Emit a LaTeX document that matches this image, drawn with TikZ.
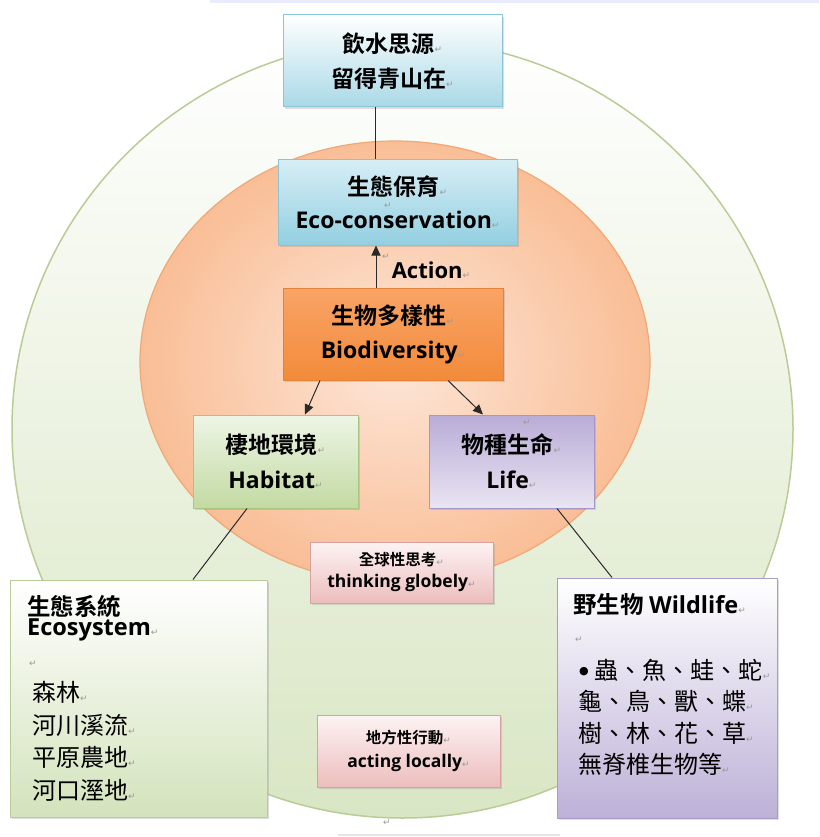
\documentclass[tikz,border=0pt]{standalone}
\usepackage{fontspec}
\setmainfont{Noto Sans CJK TC}[BoldFont={Noto Sans CJK TC Bold}]
\newfontfamily\latfont{Open Sans}
\newfontfamily\dvfont{DejaVu Sans}
\usetikzlibrary{arrows.meta,shadows,calc}
\definecolor{retgray}{HTML}{9A9A9A}
\definecolor{outerBd}{HTML}{B9CC96}
\definecolor{outerBot}{HTML}{D9E6C4}
\definecolor{orangeBd}{HTML}{F0A877}
\definecolor{orangeIn}{HTML}{FDE6D8}
\definecolor{orangeOut}{HTML}{F9BE96}
\definecolor{blueBd}{HTML}{8CC4D6}
\definecolor{blueBot}{HTML}{A9D9E7}
\definecolor{consTop}{HTML}{D6EEF5}
\definecolor{consBot}{HTML}{93CFE1}
\definecolor{bioBd}{HTML}{E5823A}
\definecolor{bioTop}{HTML}{F9A467}
\definecolor{bioMid}{HTML}{FBC6A0}
\definecolor{bioBot}{HTML}{F28B3A}
\definecolor{habBd}{HTML}{A9C580}
\definecolor{habTop}{HTML}{EEF5E6}
\definecolor{habBot}{HTML}{C3DAA2}
\definecolor{lifeBd}{HTML}{A497CB}
\definecolor{lifeTop}{HTML}{B9ACD7}
\definecolor{lifeBot}{HTML}{E9E5F2}
\definecolor{pinkBd}{HTML}{D8A0A0}
\definecolor{pinkTop}{HTML}{FDF3F3}
\definecolor{pinkBot}{HTML}{EDBDBD}
\definecolor{ecoBd}{HTML}{B7CC98}
\definecolor{ecoBot}{HTML}{D3E3BC}
\definecolor{wildBd}{HTML}{A99CCB}
\definecolor{wildBot}{HTML}{BDB1D7}
\definecolor{lineC}{HTML}{2A2A2A}
\newcommand\retm{{\mdseries\dvfont\fontsize{9}{9}\selectfont\textcolor{retgray}{↵}}}
\newcommand\lat[1]{{\latfont #1}}
\begin{document}
\begin{tikzpicture}[x=1pt,y=-1pt,
  box/.style={draw, rectangle, inner sep=0pt, line width=1pt, align=center,
    drop shadow={shadow xshift=2pt, shadow yshift=-2pt, opacity=0.25},
    font=\bfseries\fontsize{23}{35}\selectfont},
  pinkbox/.style={box, draw=pinkBd, top color=pinkTop, bottom color=pinkBot,
    minimum width=183pt, font=\bfseries\fontsize{17.5}{22}\selectfont},
  conn/.style={draw=lineC, line width=1pt},
  arr/.style={conn, -{Triangle[length=10pt,width=9pt]}},
  hdr/.style={anchor=west, inner sep=0pt, font=\bfseries\fontsize{23.5}{28}\selectfont},
  item/.style={anchor=west, inner sep=0pt, font=\fontsize{24}{28}\selectfont},
  ret/.style={inner sep=0pt, font=\dvfont\fontsize{9}{9}\selectfont, text=retgray}]
\useasboundingbox (0,0) rectangle (819,837);
% page artifacts
\draw[line width=3pt, draw=blue!8] (210,1.5) -- (819,1.5);
\draw[line width=2pt, draw=black!10] (338,835) -- (560,835);
% outer circle
\path[draw=outerBd, line width=1.5pt, top color=white, bottom color=outerBot]
  (402.5,429) ellipse [x radius=390.5pt, y radius=389pt];
% inner ellipse
\path[draw=orangeBd, line width=1.2pt, inner color=orangeIn, outer color=orangeOut]
  (395,362) ellipse [x radius=255pt, y radius=221pt];
% boxes
\node[box, draw=blueBd, top color=white, bottom color=blueBot,
  minimum width=219pt, minimum height=92pt] (src) at (392.5,61)
  {飲水思源\retm\\留得青山在\retm};
\node[box, draw=blueBd, top color=consTop, bottom color=consBot,
  minimum width=239pt, minimum height=85pt, font=\bfseries\fontsize{23}{33}\selectfont] (cons) at (397.5,202.5)
  {生態保育\retm\\\lat{Eco-conservation}\retm};
\node[ret] (consret) at (388,206) {↵};
\node[box, draw=bioBd, top color=bioTop, middle color=bioMid, bottom color=bioBot,
  minimum width=220pt, minimum height=92pt, font=\bfseries\fontsize{23}{34}\selectfont] (bio) at (393,334)
  {生物多樣性\retm\\\lat{Biodiversity}\retm};
\node[inner sep=0pt, font=\bfseries\fontsize{22}{26}\selectfont] (act) at (431,270) {\lat{Action}\retm};
\node[ret] (actret) at (386,257) {↵};
\node[box, draw=habBd, top color=habTop, bottom color=habBot,
  minimum width=165pt, minimum height=93pt] (hab) at (275.5,461.5)
  {棲地環境\retm\\\lat{Habitat}\retm};
\node[box, draw=lifeBd, top color=lifeTop, bottom color=lifeBot,
  minimum width=165pt, minimum height=93pt] (life) at (511.5,461.5)
  {物種生命\retm\\\lat{Life}\retm};
\node[ret] (liferet) at (527,423) {↵};
\node[pinkbox, minimum height=61pt] (glob) at (401.5,572.5)
  {{\fontsize{15.5}{22}\selectfont 全球性思考\retm}\\\lat{thinking globely}\retm};
\node[pinkbox, minimum height=72pt] (local) at (408.5,751)
  {{\fontsize{15.5}{24}\selectfont 地方性行動\retm}\\[2pt]\lat{acting locally}\retm};
\node[box, draw=ecoBd, top color=white, bottom color=ecoBot,
  minimum width=257pt, minimum height=237pt] (ecosys) at (138.5,698.5) {};
\node[box, draw=wildBd, top color=white, bottom color=wildBot,
  minimum width=220pt, minimum height=240pt] (wild) at (667,698) {};
% ecosystem text
\node[hdr] (e1) at (27,607) {生態系統};
\node[hdr] (e2) at (27,630) {\lat{Ecosystem}\retm};
\node[ret] (e3) at (33,664) {↵};
\node[item] (e4) at (32,692) {森林\retm};
\node[item] (e5) at (32,725) {河川溪流\retm};
\node[item] (e6) at (32,757) {平原農地\retm};
\node[item] (e7) at (32,790) {河口溼地\retm};
% wildlife text
\node[hdr] (w1) at (573,605) {野生物 \lat{Wildlife}\retm};
\node[ret] (w2) at (579,640) {↵};
\node[item] (w3) at (579,670) {\raisebox{5pt}{\dvfont\fontsize{11}{11}\selectfont●}\hspace{6pt}蟲、魚、蛙、蛇\retm};
\node[item] (w4) at (578,701) {龜、鳥、獸、蝶\retm};
\node[item] (w5) at (578,733) {樹、林、花、草\retm};
\node[item] (w6) at (578,764) {無脊椎生物等\retm};
\node[ret] (botret) at (387,823) {↵};
% connectors
\draw[conn] ([xshift=-17.5pt]src.south) -- ([xshift=-17.5pt]src.south |- cons.north);
\draw[arr] ([xshift=-17pt]bio.north) -- ([xshift=-17pt]bio.north |- cons.south);
\draw[arr] ([xshift=-73pt]bio.south) -- ([xshift=29.5pt]hab.north);
\draw[arr] ([xshift=55pt]bio.south) -- ([xshift=-28.5pt]life.north);
\draw[conn] ([xshift=-28.5pt]hab.south) -- ([xshift=54.5pt]ecosys.north);
\draw[conn] ([xshift=45.5pt]life.south) -- ([xshift=-55pt]wild.north);
\end{tikzpicture}
\end{document}
